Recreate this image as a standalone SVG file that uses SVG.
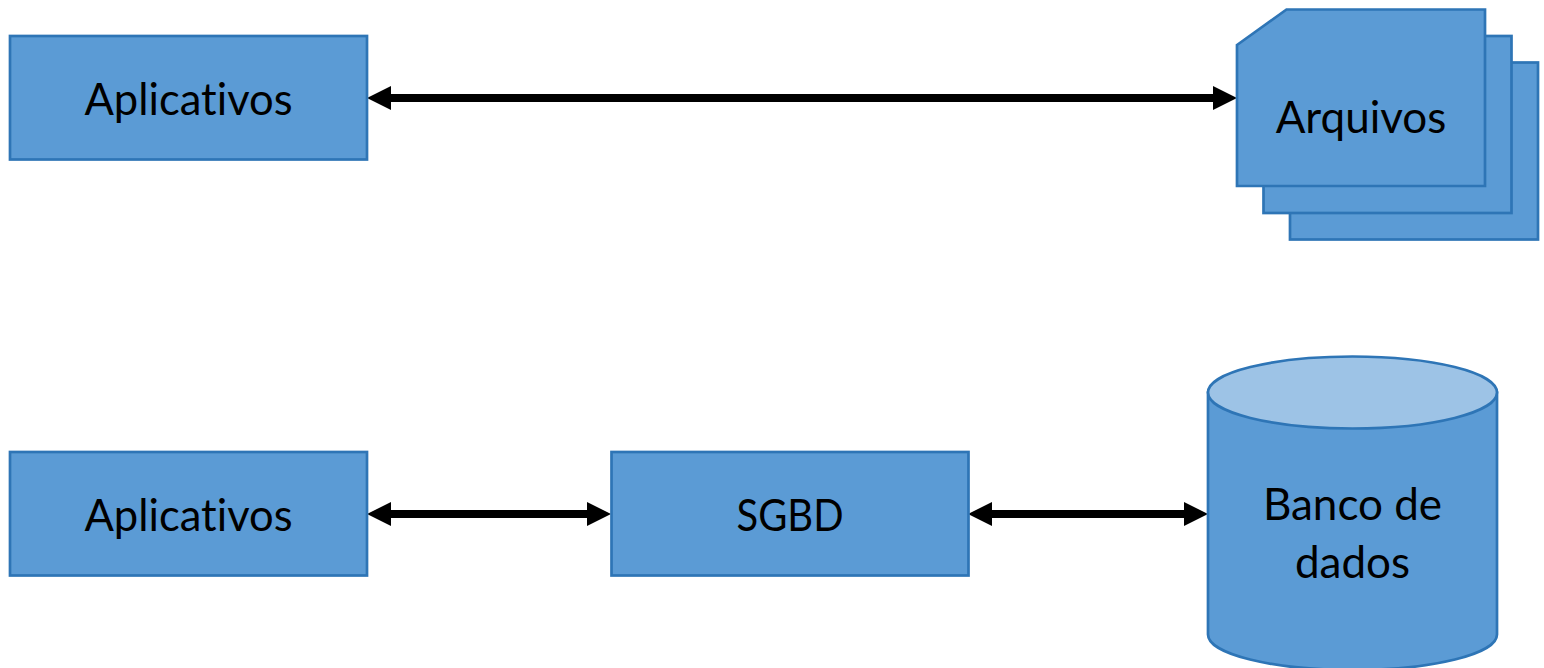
<svg xmlns="http://www.w3.org/2000/svg" width="1544" height="668" viewBox="0 0 1544 668">
<style>
.s{fill:#5B9BD5;stroke:#2E75B6;stroke-width:2.7}
.t{font-family:"Lato","Open Sans",sans-serif;font-size:44px;fill:#000;text-anchor:middle;font-variant-ligatures:none}
.c{stroke:#000;stroke-width:8;fill:none;marker-start:url(#a);marker-end:url(#b)}
</style>
<defs>
<marker id="b" markerUnits="userSpaceOnUse" markerWidth="24" markerHeight="26" refX="12" refY="13" orient="auto"><path d="M0 1L24 13L0 25Z" fill="#000"/></marker>
<marker id="a" markerUnits="userSpaceOnUse" markerWidth="24" markerHeight="26" refX="12" refY="13" orient="auto"><path d="M24 1L0 13L24 25Z" fill="#000"/></marker>
</defs>
<rect width="1544" height="668" fill="#fff"/>
<g id="connectors">
<line class="c" x1="379" y1="98" x2="1225" y2="98"/>
<line class="c" x1="379" y1="514" x2="599" y2="514"/>
<line class="c" x1="980" y1="514" x2="1196" y2="514"/>
</g>
<g id="aplicativos-1"><rect class="s" x="10" y="36" width="357" height="123.500"/><text class="t" x="188.500" y="115" textLength="208" lengthAdjust="spacingAndGlyphs">Aplicativos</text></g>
<g id="arquivos">
<rect class="s" x="1290" y="62.500" width="248" height="177"/>
<rect class="s" x="1263.500" y="36" width="248" height="177"/>
<path class="s" d="M1237 45L1286.500 9.500H1485V186H1237Z"/>
<text class="t" x="1361" y="133">Arquivos</text>
</g>
<g id="aplicativos-2"><rect class="s" x="10" y="452" width="357" height="123.500"/><text class="t" x="188.500" y="531" textLength="208" lengthAdjust="spacingAndGlyphs">Aplicativos</text></g>
<g id="sgbd"><rect class="s" x="611.500" y="452" width="357" height="123.500"/><text class="t" x="790" y="531" textLength="107" lengthAdjust="spacingAndGlyphs">SGBD</text></g>
<g id="banco">
<path class="s" d="M1208 392.500V634.500C1208 654 1272 670 1352.500 670S1497 654 1497 634.500V392.500Z"/>
<ellipse cx="1352.500" cy="392.500" rx="144.500" ry="36" fill="#9DC3E6" stroke="#2E75B6" stroke-width="2.700"/>
<text class="t" x="1352.500" y="520">Banco de</text>
<text class="t" x="1352.500" y="578">dados</text>
</g>
</svg>
